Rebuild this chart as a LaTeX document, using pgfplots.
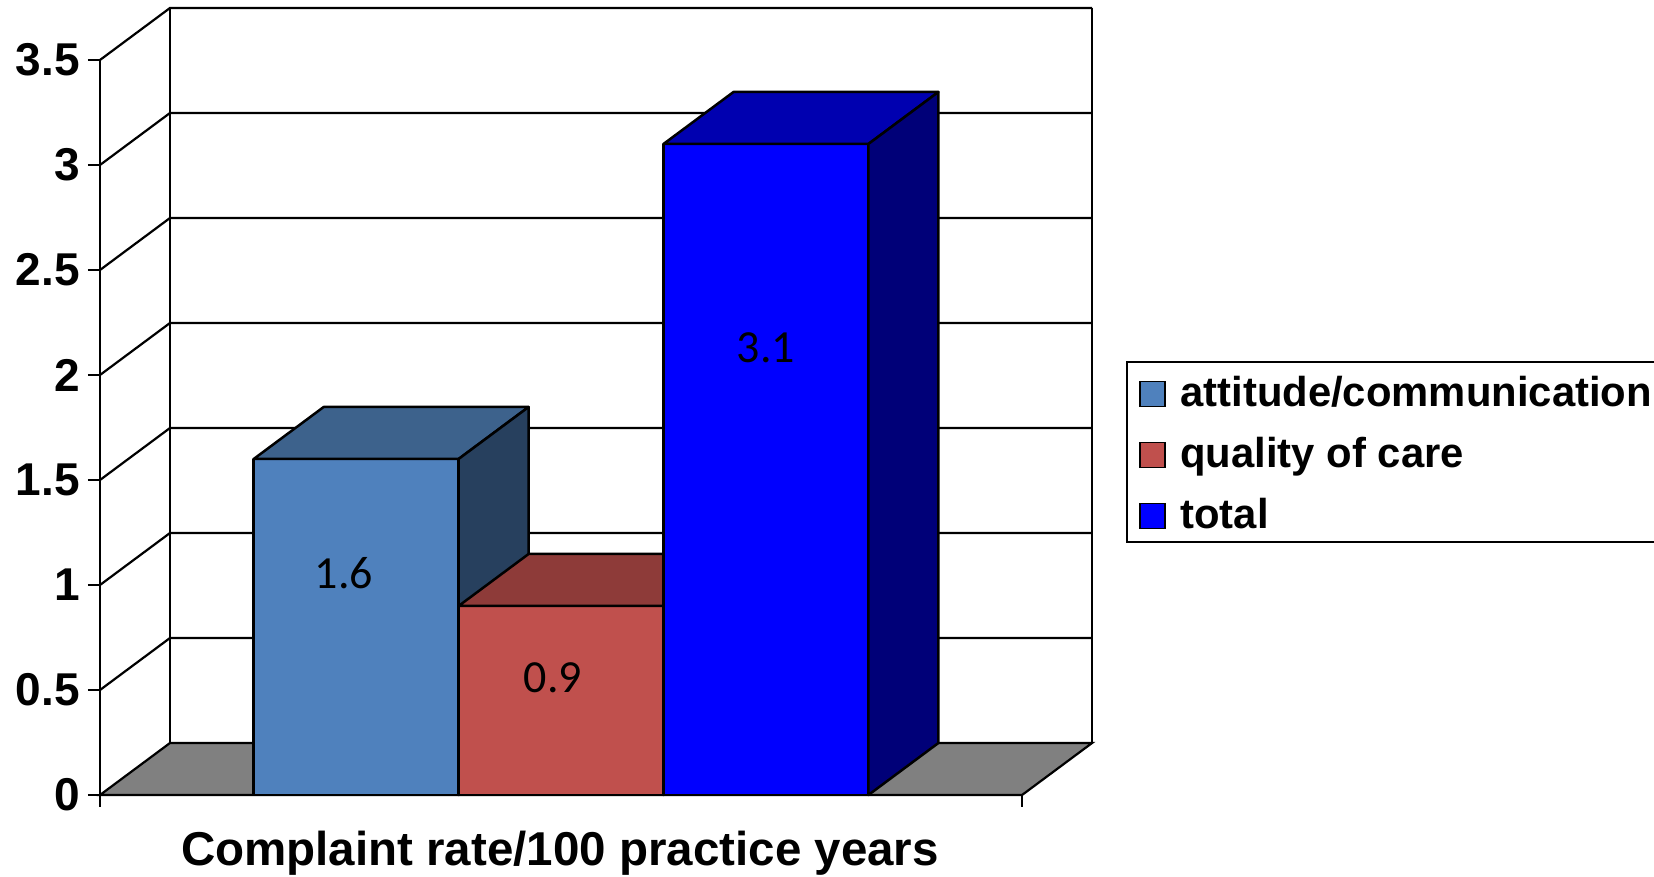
\documentclass[border=0pt]{standalone}
\usepackage{pgfplots}
\pgfplotsset{compat=1.18}
\usepackage{fontspec}
\setmainfont{Liberation Sans}
\newfontfamily\valuefont{Carlito}

\definecolor{attFront}{HTML}{4F81BD}
\definecolor{attTop}{HTML}{3D628C}
\definecolor{attSide}{HTML}{27405E}
\definecolor{qocFront}{HTML}{C0504D}
\definecolor{qocTop}{HTML}{8E3B39}
\definecolor{qocSide}{HTML}{6E2D2B}
\definecolor{totFront}{HTML}{0000FF}
\definecolor{totTop}{HTML}{0000B0}
\definecolor{totSide}{HTML}{000078}
\definecolor{floorgray}{HTML}{808080}

% one 3-D column: #1 = left x, #2 = right x, #3 = value, #4 = colour stem
\newcommand{\column}[4]{%
  \addplot3[fill=#4Front, draw=black, line width=1.25pt, line join=round, forget plot]
    coordinates {(#1,0,0) (#2,0,0) (#2,0,#3) (#1,0,#3)} -- cycle;
  \addplot3[fill=#4Top, draw=black, line width=1.25pt, line join=round, forget plot]
    coordinates {(#1,0,#3) (#2,0,#3) (#2,1,#3) (#1,1,#3)} -- cycle;
  \addplot3[fill=#4Side, draw=black, line width=1.25pt, line join=round, forget plot]
    coordinates {(#2,0,0) (#2,1,0) (#2,1,#3) (#2,0,#3)} -- cycle;
}

\begin{document}
\begin{tikzpicture}
\begin{axis}[
  x={(102.45pt,0pt)}, y={(35pt,26pt)}, z={(0pt,105pt)},
  xmin=0, xmax=4.5, ymin=0, ymax=1, zmin=0, zmax=3.5,
  hide axis, clip=false,
]
\coordinate (O) at (axis cs:0,0,0);

% floor
\addplot3[fill=floorgray, draw=black, line width=1.1pt, forget plot]
  coordinates {(0,0,0) (4.5,0,0) (4.5,1,0) (0,1,0)} -- cycle;

% back and side walls with their gridlines
\pgfplotsinvokeforeach{0.5,1,1.5,2,2.5,3,3.5}{
  \addplot3[black, line width=1.1pt, forget plot]
    coordinates {(0,0,#1) (0,1,#1) (4.5,1,#1)};
}
\addplot3[black, line width=1.1pt, forget plot] coordinates {(0,1,0) (0,1,3.5)};
\addplot3[black, line width=1.1pt, forget plot] coordinates {(4.5,1,0) (4.5,1,3.5)};

% columns
\column{0.75}{1.75}{1.6}{att}
\column{1.75}{2.75}{0.9}{qoc}
\column{2.75}{3.75}{3.1}{tot}

% value labels
\node[font=\valuefont\fontsize{23pt}{27pt}\selectfont, inner sep=0pt]
  at (axis cs:1.19,0,1.057) {1.6};
\node[font=\valuefont\fontsize{23pt}{27pt}\selectfont, inner sep=0pt]
  at (axis cs:2.21,0,0.557) {0.9};
\node[font=\valuefont\fontsize{23pt}{27pt}\selectfont, inner sep=0pt]
  at (axis cs:3.25,0,2.131) {3.1};
\end{axis}

\begin{scope}[shift={(O)}]
  % value axis with ticks
  \draw[line width=1.1pt] (0,-6pt) -- (0,367.5pt);
  \draw[line width=1.1pt] (461pt,0pt) -- (461pt,-6pt);
  \draw[line width=1.1pt] (0,0) -- (461pt,0pt);
  \foreach \z/\h in {0/0,0.5/52.5,1/105,1.5/157.5,2/210,2.5/262.5,3/315,3.5/367.5}{
    \draw[line width=1.1pt] (-6pt,\h pt) -- (0,\h pt);
    \node[anchor=east, inner sep=0pt, font=\bfseries\fontsize{23pt}{27pt}\selectfont]
      at (-10pt,\h pt) {\z};
  }
  % category label
  \node[anchor=base, inner sep=0pt, font=\bfseries\fontsize{23.75pt}{28pt}\selectfont]
    at (230pt,-35.5pt) {Complaint rate/100 practice years};
  % legend
  \draw[line width=1.1pt, fill=white] (513.5pt,126.5pt) rectangle (790pt,216.5pt);
  \foreach \c/\yc/\t in {attFront/200.5/attitude\slash communication,
                        qocFront/170/quality of care,
                        totFront/139.5/total}{
    \draw[fill=\c, line width=0.8pt] (520pt,\yc pt-6.25pt) rectangle (532.5pt,\yc pt+6.25pt);
    \node[anchor=base west, inner sep=0pt, font=\bfseries\fontsize{20.9pt}{25pt}\selectfont]
      at (540pt,\yc pt-6.5pt) {\t};
  }
\end{scope}

\pgfresetboundingbox
\path[use as bounding box, shift={(O)}] (-50pt,-41pt) rectangle (777pt,397.5pt);
\end{tikzpicture}
\end{document}
